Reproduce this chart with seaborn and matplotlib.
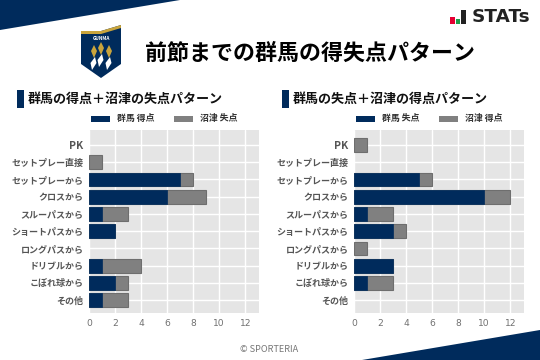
import numpy as np
import pandas as pd
import matplotlib
matplotlib.use("Agg")
import matplotlib.pyplot as plt
from matplotlib.patches import Polygon, Rectangle
import seaborn as sns

categories = ["PK", "セットプレー直接", "セットプレーから", "クロスから", "スルーパスから",
              "ショートパスから", "ロングパスから", "ドリブルから", "こぼれ球から", "その他"]
left_gunma = [0, 0, 7, 6, 1, 2, 0, 1, 2, 1]
left_numazu = [0, 1, 1, 3, 2, 0, 0, 3, 1, 2]
right_gunma = [0, 0, 5, 10, 1, 3, 0, 3, 1, 0]
right_numazu = [1, 0, 1, 2, 2, 1, 1, 0, 2, 0]
xticks = [0, 2, 4, 6, 8, 10, 12]

title = "前節までの群馬の得失点パターン"
left_title = "群馬の得点＋沼津の失点パターン"
right_title = "群馬の失点＋沼津の得点パターン"
left_legend = ["群馬 得点", "沼津 失点"]
right_legend = ["群馬 失点", "沼津 得点"]

NAVY = "#002b5c"
GREY = "#808080"
W, H = 540, 360

sns.set_theme(style="darkgrid")
plt.rcParams["font.family"] = ["Noto Sans CJK JP", "DejaVu Sans"]

fig = plt.figure(figsize=(5.4, 3.6), dpi=100, facecolor="white")

# overlay in pixel coordinates for header, logos and legends
bg = fig.add_axes([0, 0, 1, 1], zorder=5)
bg.set_xlim(0, W)
bg.set_ylim(H, 0)
bg.axis("off")
bg.patch.set_alpha(0)

bg.add_patch(Polygon([(0, 0), (180, 0), (0, 30)], color=NAVY, lw=0))
bg.add_patch(Polygon([(362, 360), (540, 330), (540, 360)], color=NAVY, lw=0))

# club badge
bg.add_patch(Polygon([(81, 31), (101, 31), (121, 25), (121, 64), (101, 78), (81, 64)], color=NAVY, lw=0))
bg.add_patch(Polygon([(81, 31), (101, 31), (121, 25), (121, 28), (101, 34), (81, 34)], color="#c9a43c", lw=0))
bg.text(101, 39, "GUNMA", color="white", fontsize=3.4, fontweight="bold", ha="center", va="center")
for cx, top in [(94, 45), (101, 42), (109, 45)]:
    bg.add_patch(Polygon([(cx, top), (cx + 3, top + 6), (cx, top + 13), (cx - 3, top + 6)], color="#c9a43c", lw=0))
    bg.add_patch(Polygon([(cx + 1, top + 12), (cx + 2.5, top + 18), (cx - 2, top + 25), (cx - 3.5, top + 18)], color="white", lw=0))

# STATs mark
bg.add_patch(Rectangle((450, 17), 5, 7, color="#e60033", lw=0))
bg.add_patch(Rectangle((456, 19), 4, 5, color="#1e9e4a", lw=0))
bg.add_patch(Rectangle((461, 10), 5, 14, color="#222222", lw=0))
bg.text(472, 17.5, "STATs", fontsize=13.2, fontweight="bold", color="#222222",
        family="DejaVu Sans", ha="left", va="center")

bg.text(145, 53, title, fontsize=15.8, fontweight="bold", color="black", ha="left", va="center")
bg.text(269, 350, "© SPORTERIA", fontsize=6.6, color="#777777", ha="center", va="center")


def draw_panel(left_px, gunma, numazu, panel_title, legend_labels):
    ax = fig.add_axes([left_px / W, 1 - 312.7 / H, 170 / W, 182.7 / H], facecolor="#e5e5e5")
    df = pd.DataFrame({"category": categories, "gunma": gunma, "numazu": numazu})
    df["total"] = df["gunma"] + df["numazu"]
    # empty rows should draw nothing, not a sliver of edge
    df[["gunma", "total"]] = df[["gunma", "total"]].replace(0, np.nan)

    # stacked bars: total in grey, navy in front
    sns.barplot(data=df, x="total", y="category", order=categories, color=GREY, saturation=1,
                width=0.8, edgecolor="#6e6e6e", linewidth=0.8, ax=ax)
    sns.barplot(data=df, x="gunma", y="category", order=categories, color=NAVY, saturation=1,
                width=0.8, edgecolor=NAVY, linewidth=0.5, ax=ax)

    ax.set_xlim(0, 13.05)
    ax.set_ylim(9.73, -0.87)
    ax.set_xticks(xticks)
    ax.set_xlabel("")
    ax.set_ylabel("")
    ax.grid(True, color="white", linewidth=1)
    ax.set_axisbelow(True)
    ax.tick_params(axis="x", length=0, pad=4.5, labelsize=6.6, labelcolor="#707070")
    ax.tick_params(axis="y", length=0, pad=4, labelsize=6.5, labelcolor="#555555")
    for lab in ax.get_yticklabels():
        lab.set_fontweight("bold")
        if lab.get_text() == "PK":
            lab.set_fontsize(7.5)
    for lab in ax.get_xticklabels():
        lab.set_family("DejaVu Sans")
    for s in ax.spines.values():
        s.set_visible(False)

    off = left_px - 89
    bg.add_patch(Rectangle((17 + off, 90), 7, 18, color=NAVY, lw=0))
    bg.text(28 + off, 99, panel_title, fontsize=9.4, fontweight="bold", color="#111111", ha="left", va="center")
    for x0, col, lab in zip([91, 174], [NAVY, GREY], legend_labels):
        bg.add_patch(Rectangle((x0 + off, 116), 19, 6, color=col, lw=0))
        bg.text(x0 + off + 26, 119, lab, fontsize=6.4, fontweight="bold", color="#333333", ha="left", va="center")


draw_panel(89, left_gunma, left_numazu, left_title, left_legend)
draw_panel(354, right_gunma, right_numazu, right_title, right_legend)

fig.savefig("out.png", dpi=100)
